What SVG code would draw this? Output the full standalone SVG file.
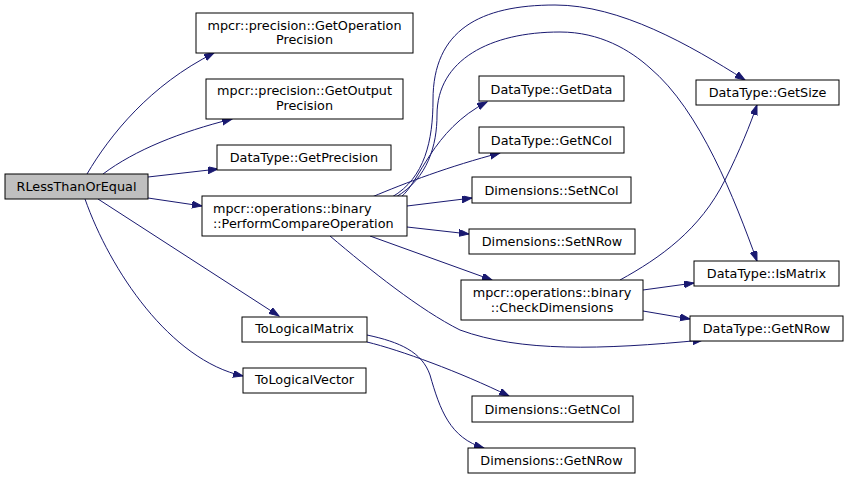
<svg xmlns="http://www.w3.org/2000/svg" width="848" height="479" viewBox="0 0 848 479">
<style>
.n rect{fill:#ffffff;stroke:#000000;stroke-width:1}
.n text{font-family:"DejaVu Sans",sans-serif;font-size:12.8px;fill:#000000;text-anchor:middle}
.e path{fill:none;stroke:#191970;stroke-width:1;marker-end:url(#ah)}
</style>
<defs>
<marker id="ah" markerUnits="userSpaceOnUse" markerWidth="11" markerHeight="8" refX="10" refY="3.5" orient="auto">
<polygon points="0,0 10,3.5 0,7" fill="#191970" stroke="#191970" stroke-width="1"/>
</marker>
</defs>
<rect width="848" height="479" fill="#ffffff"/>
<g id="connectors" class="e">
<path d="M87,174 C110,135 150,85 214,53"/>
<path d="M103,174 C135,150 180,132 232,119"/>
<path d="M148,177 L218,169"/>
<path d="M148,198 L202,206"/>
<path d="M98,199 L279,316"/>
<path d="M85,199 C110,270 170,360 243,376"/>
<path d="M392,197 C425,178 433,140 433,100 C433,30 480,5 555,5 C620,5 690,45 745,80"/>
<path d="M396,197 C428,178 437,145 437,115 C437,60 490,32 560,32 C600,32 630,50 650,68 C700,110 735,200 757,261"/>
<path d="M401,197 C420,182 432,130 487,102"/>
<path d="M372,197 C405,183 450,166 500,153"/>
<path d="M407,206 L472,198"/>
<path d="M407,227 L469,234"/>
<path d="M370,236 L492,280"/>
<path d="M330,236 C370,270 420,310 460,330 C520,352 600,350 703,340"/>
<path d="M620,280 C660,258 700,230 725,180 C740,150 750,125 757,105"/>
<path d="M643,290 L694,283"/>
<path d="M643,311 L690,319"/>
<path d="M367,342 C400,350 460,372 509,396"/>
<path d="M367,335 C400,342 422,352 430,375 C440,410 450,438 484,448"/>
</g>
<g id="RLessThanOrEqual" class="n"><rect x="5" y="174" width="143" height="25" style="fill:#bfbfbf"/><text x="76.5" y="191">RLessThanOrEqual</text></g>
<g id="GetOperationPrecision" class="n"><rect x="196" y="13" width="217" height="40"/><text x="304.5" y="30">mpcr::precision::GetOperation</text><text x="304.5" y="44">Precision</text></g>
<g id="GetOutputPrecision" class="n"><rect x="206" y="79" width="197" height="40"/><text x="304.5" y="95">mpcr::precision::GetOutput</text><text x="304.5" y="110">Precision</text></g>
<g id="GetPrecision" class="n"><rect x="217" y="145" width="174" height="25"/><text x="304" y="161.5">DataType::GetPrecision</text></g>
<g id="PerformCompareOperation" class="n"><rect x="202" y="196" width="205" height="40"/><text x="213" y="212.5" style="text-anchor:start">mpcr::operations::binary</text><text x="213" y="227.5" style="text-anchor:start">::PerformCompareOperation</text></g>
<g id="ToLogicalMatrix" class="n"><rect x="242" y="317" width="125" height="25"/><text x="304.5" y="333">ToLogicalMatrix</text></g>
<g id="ToLogicalVector" class="n"><rect x="243" y="368" width="123" height="25"/><text x="304.5" y="384">ToLogicalVector</text></g>
<g id="GetData" class="n"><rect x="479" y="76" width="145" height="25"/><text x="551.5" y="93.5">DataType::GetData</text></g>
<g id="DataTypeGetNCol" class="n"><rect x="479" y="127" width="145" height="26"/><text x="551.5" y="144.5">DataType::GetNCol</text></g>
<g id="SetNCol" class="n"><rect x="472" y="177" width="159" height="26"/><text x="551.5" y="194.5">Dimensions::SetNCol</text></g>
<g id="SetNRow" class="n"><rect x="469" y="229" width="166" height="25"/><text x="552" y="245.5">Dimensions::SetNRow</text></g>
<g id="CheckDimensions" class="n"><rect x="461" y="280" width="182" height="40"/><text x="552" y="296.5">mpcr::operations::binary</text><text x="552" y="311.5">::CheckDimensions</text></g>
<g id="GetSize" class="n"><rect x="696" y="80" width="143" height="25"/><text x="767.5" y="97">DataType::GetSize</text></g>
<g id="IsMatrix" class="n"><rect x="694" y="261" width="145" height="25"/><text x="766.5" y="277.5">DataType::IsMatrix</text></g>
<g id="DataTypeGetNRow" class="n"><rect x="690" y="316" width="153" height="25"/><text x="766.5" y="332.5">DataType::GetNRow</text></g>
<g id="DimensionsGetNCol" class="n"><rect x="472" y="396" width="161" height="26"/><text x="552.5" y="413.5">Dimensions::GetNCol</text></g>
<g id="DimensionsGetNRow" class="n"><rect x="468" y="448" width="167" height="25"/><text x="551.5" y="464.5">Dimensions::GetNRow</text></g>
</svg>
